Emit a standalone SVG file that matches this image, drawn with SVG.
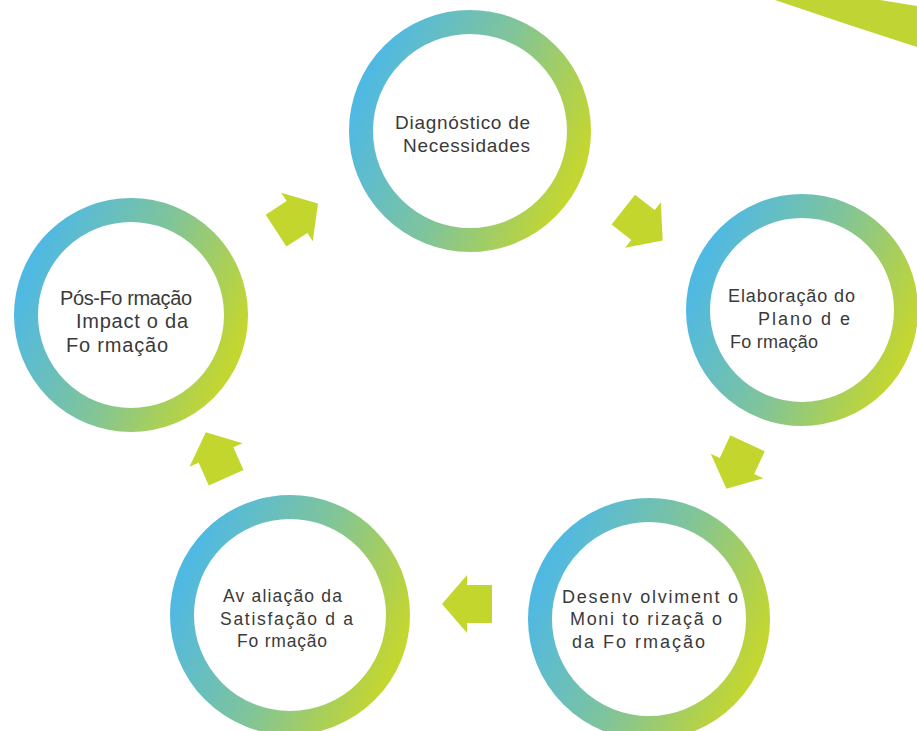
<svg xmlns="http://www.w3.org/2000/svg" width="917" height="731" viewBox="0 0 917 731">
<defs>
<linearGradient id="ring" x1="0.02" y1="0.3" x2="0.98" y2="0.7">
<stop offset="0" stop-color="#50b9e2"/>
<stop offset="0.5" stop-color="#80c49a"/>
<stop offset="1" stop-color="#c3d631"/>
</linearGradient>
<path id="arr" d="M-25,-19 L0,-19 L0,-29 L25,0 L0,29 L0,19 L-25,19 Z"/>
</defs>
<style>
.ring{fill:#fff;stroke:url(#ring);stroke-width:24}
.lbl{font-family:"Liberation Sans",Arial,sans-serif;fill:#3a3a3a}
.arrow{fill:#c3d62e}
</style>
<rect width="917" height="731" fill="#fff"/>
<path d="M775,0 L880,0 L917,6 L917,47 Q845,24 775,0 Z" fill="#c0d433"/>
<g id="connectors">
<use href="#arr" class="arrow" transform="translate(297,217) rotate(-33)"/>
<use href="#arr" class="arrow" transform="translate(643,225) rotate(38)"/>
<use href="#arr" class="arrow" transform="translate(737,466) rotate(115)"/>
<use href="#arr" class="arrow" transform="translate(467,604) rotate(180)"/>
<use href="#arr" class="arrow" transform="translate(216,455) rotate(-114)"/>
</g>
<g id="n1">
<circle class="ring" cx="470" cy="131" r="109"/>
<text class="lbl" font-size="19"><tspan x="395" y="129" textLength="135" lengthAdjust="spacing">Diagnóstico de</tspan><tspan x="403" y="152" textLength="127" lengthAdjust="spacing">Necessidades</tspan></text>
</g>
<g id="n2">
<circle class="ring" cx="802" cy="310" r="104"/>
<text class="lbl" font-size="18"><tspan x="728" y="302" textLength="127" lengthAdjust="spacing">Elaboração do</tspan><tspan x="758" y="325" textLength="92" lengthAdjust="spacing">Plano d e</tspan><tspan x="730" y="348" textLength="88" lengthAdjust="spacing">Fo rmação</tspan></text>
</g>
<g id="n3">
<circle class="ring" cx="649" cy="619" r="109"/>
<text class="lbl" font-size="18"><tspan x="562" y="603" textLength="176" lengthAdjust="spacing">Desenv olviment o</tspan><tspan x="570" y="625" textLength="152" lengthAdjust="spacing">Moni to rizaçã o</tspan><tspan x="572" y="648" textLength="133" lengthAdjust="spacing">da Fo rmação</tspan></text>
</g>
<g id="n4">
<circle class="ring" cx="290" cy="615" r="108"/>
<text class="lbl" font-size="17.5"><tspan x="223" y="602" textLength="119" lengthAdjust="spacing">Av aliação da</tspan><tspan x="220" y="625" textLength="133" lengthAdjust="spacing">Satisfação d a</tspan><tspan x="237" y="647" textLength="90" lengthAdjust="spacing">Fo rmação</tspan></text>
</g>
<g id="n5">
<circle class="ring" cx="131" cy="315" r="105"/>
<text class="lbl" font-size="20"><tspan x="60" y="305" textLength="132" lengthAdjust="spacing">Pós-Fo rmação</tspan><tspan x="76" y="328" textLength="112" lengthAdjust="spacing">Impact o da</tspan><tspan x="66" y="352" textLength="102" lengthAdjust="spacing">Fo rmação</tspan></text>
</g>
</svg>
